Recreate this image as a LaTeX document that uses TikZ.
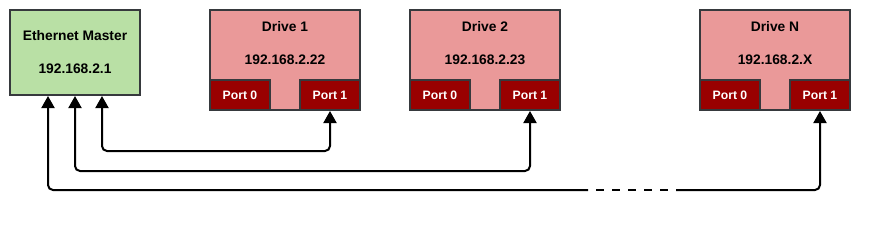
\documentclass[tikz,border=0pt]{standalone}
\usepackage{fontspec}
\setmainfont{Liberation Sans}
\usepackage{tikz}
\usetikzlibrary{arrows.meta,positioning}
\definecolor{masterfill}{HTML}{B9E0A5}
\definecolor{drivefill}{HTML}{EA9999}
\definecolor{portfill}{HTML}{990000}
\definecolor{edge}{HTML}{36393D}

\begin{document}
\begin{tikzpicture}[
    x=1pt,y=-1pt,
    box/.style={draw=edge,line width=2pt,align=center,inner sep=0pt,font=\bfseries\fontsize{13.8}{33}\selectfont},
    master/.style={box,fill=masterfill,minimum width=130pt,minimum height=85pt},
    drive/.style={box,fill=drivefill,minimum width=150pt,minimum height=100pt},
    portbox/.style={box,fill=portfill,text=white,minimum width=60pt,minimum height=30pt,font=\bfseries\fontsize{12.2}{14}\selectfont},
    lbl/.style={align=center,inner sep=0pt,font=\bfseries\fontsize{13.8}{33}\selectfont,yshift=16.5pt},
    link/.style={line width=2pt,rounded corners=5pt},
    arrow/.style={link,-{Triangle[width=13pt,length=12pt]}},
    biarrow/.style={link,{Triangle[width=13pt,length=12pt]}-{Triangle[width=13pt,length=12pt]}},
    gap/.style={line width=2pt,dash pattern=on 8pt off 8pt,dash phase=8pt}
  ]
    \useasboundingbox (0,0) rectangle (876,225);

    \node[master] (eth) at (75,52.5) {Ethernet Master\\192.168.2.1};

    \node[drive,label={[lbl]center:Drive 1\\192.168.2.22}] (drv1) at (285,60) {};
    \node[portbox,anchor=south west] (drv1p0) at (drv1.south west) {Port 0};
    \node[portbox,anchor=south east] (drv1p1) at (drv1.south east) {Port 1};

    \node[drive,label={[lbl]center:Drive 2\\192.168.2.23}] (drv2) at (485,60) {};
    \node[portbox,anchor=south west] (drv2p0) at (drv2.south west) {Port 0};
    \node[portbox,anchor=south east] (drv2p1) at (drv2.south east) {Port 1};

    \node[drive,label={[lbl]center:Drive N\\192.168.2.X}] (drvN) at (775,60) {};
    \node[portbox,anchor=south west] (drvNp0) at (drvN.south west) {Port 0};
    \node[portbox,anchor=south east] (drvNp1) at (drvN.south east) {Port 1};

    % links to port 1 of each drive
    \draw[biarrow] ([xshift=27pt]eth.south) -- ++(0,55) -| (drv1p1.south);
    \draw[biarrow] (eth.south) -- ++(0,75) -| (drv2p1.south);

    % last link, broken by the dashed part
    \coordinate (gapL) at (588,190);
    \coordinate (gapR) at (676,190);
    \draw[arrow] (gapL) -| ([xshift=-27pt]eth.south);
    \draw[gap] (gapL) -- (gapR);
    \draw[arrow] (gapR) -| (drvNp1.south);
\end{tikzpicture}
\end{document}
